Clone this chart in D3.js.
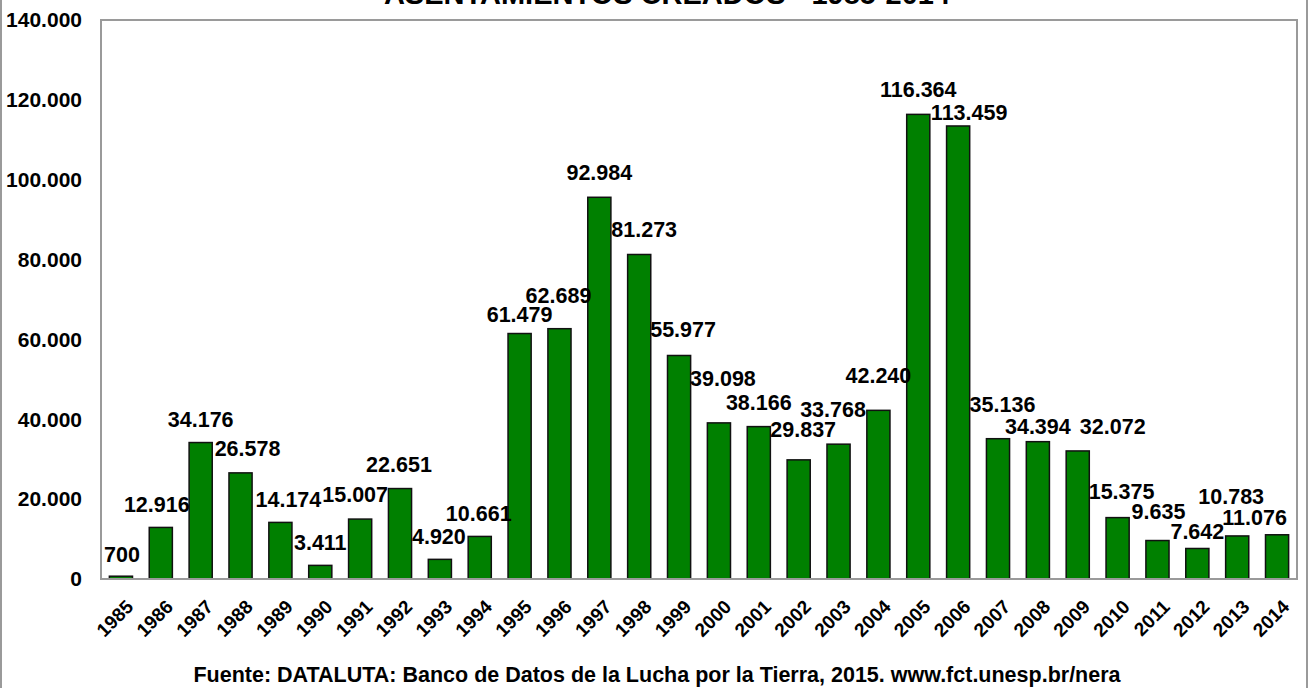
<!DOCTYPE html>
<meta charset="utf-8">
<style>
    body { margin: 0; background: #fff; }
    text { font-family: Arial, "Liberation Sans", sans-serif; font-weight: bold; fill: #000; }
    .bar { fill: #008000; stroke: #111; stroke-width: 1.5; }
    .frame { fill: none; stroke: #9a9a9a; stroke-width: 2; }
</style>
<svg width="1310" height="688"></svg>
<script src="https://d3js.org/d3.v7.min.js"></script>
<script>
    // years on the x axis
    var years = ["1985", "1986", "1987", "1988", "1989", "1990", "1991", "1992", "1993", "1994",
                 "1995", "1996", "1997", "1998", "1999", "2000", "2001", "2002", "2003", "2004",
                 "2005", "2006", "2007", "2008", "2009", "2010", "2011", "2012", "2013", "2014"];
    // printed value of each bar (families settled)
    var labelValues = [700, 12916, 34176, 26578, 14174, 3411, 15007, 22651, 4920, 10661,
                       61479, 62689, 92984, 81273, 55977, 39098, 38166, 29837, 33768, 42240,
                       116364, 113459, 35136, 34394, 32072, 15375, 9635, 7642, 10783, 11076];
    // drawn height of each bar (1997 bar is drawn taller than its label)
    var barValues = [700, 12916, 34176, 26578, 14174, 3411, 15007, 22651, 4920, 10661,
                     61479, 62689, 95600, 81273, 55977, 39098, 38166, 29837, 33768, 42240,
                     116364, 113459, 35136, 34394, 32072, 15375, 9635, 7642, 10783, 11076];
    var yTicks = [0, 20000, 40000, 60000, 80000, 100000, 120000, 140000];

    // hand-moved data labels in the original: [dx, dy] in px
    var labelNudge = [[1, 1], [-4, 0], [0, 0], [7, -1], [8, 0], [0, 0], [-5, -2], [-1, -1.5], [-1, 0], [-1, 0],
                      [0, 4], [-1, -10.5], [0, -2], [5, -2], [4, -3], [4, -21], [0, -1], [4.5, -7], [-5.5, -11.5], [0, -11.5],
                      [0, -2], [11, 10], [4.5, -11.5], [0, 8], [35, -1.5], [4, -3], [1, -6.5], [0, 6], [-6, -16.5], [-22.5, 5.5]];

    var svg = d3.select("svg");
    var fmt = d3.formatLocale({decimal: ",", thousands: ".", grouping: [3], currency: ["", ""]}).format(",d");

    var x = d3.scaleBand().domain(years).range([101, 1297]).paddingInner(0.42).paddingOuter(0.21);
    var y = d3.scaleLinear().domain([0, 140000]).range([579, 20]);

    // outer chart border
    svg.append("rect").attr("class", "frame")
        .attr("x", 1).attr("y", -5).attr("width", 1306).attr("height", 700);

    // title (cut off at top in the original)
    svg.append("text")
        .attr("x", 667).attr("y", 4)
        .attr("text-anchor", "middle")
        .style("font-size", "29px")
        .text("ASENTAMIENTOS CREADOS - 1985-2014");

    // bars
    svg.selectAll(".bar")
        .data(years)
        .enter().append("rect")
        .attr("class", "bar")
        .attr("x", function (d) { return x(d); })
        .attr("width", x.bandwidth())
        .attr("y", function (d, i) { return y(barValues[i]); })
        .attr("height", function (d, i) { return y(0) - y(barValues[i]); });

    // plot area frame
    svg.append("rect").attr("class", "frame")
        .attr("x", x.range()[0]).attr("y", y.range()[1])
        .attr("width", x.range()[1] - x.range()[0])
        .attr("height", y.range()[0] - y.range()[1]);

    // y axis labels
    var yAxis = d3.axisLeft(y).tickValues(yTicks).tickFormat(fmt).tickSize(0).tickPadding(19);
    var yg = svg.append("g").attr("transform", "translate(" + x.range()[0] + ",0)").call(yAxis);
    yg.select(".domain").remove();
    yg.selectAll("text").style("font-size", "21px").style("font-family", null).attr("fill", "#000");

    // x axis labels, rotated
    svg.selectAll(".xlab")
        .data(years)
        .enter().append("text")
        .attr("class", "xlab")
        .style("font-size", "19px")
        .attr("text-anchor", "end")
        .attr("transform", function (d) {
            return "translate(" + (x(d) + x.bandwidth() / 2 + 13.5) + "," + (y(0) + 29) + ") rotate(-45)";
        })
        .text(function (d) { return d; });

    // data labels
    svg.selectAll(".vlab")
        .data(years)
        .enter().append("text")
        .attr("class", "vlab")
        .style("font-size", "21.5px")
        .attr("text-anchor", "middle")
        .attr("x", function (d, i) { return x(d) + x.bandwidth() / 2 + labelNudge[i][0]; })
        .attr("y", function (d, i) { return y(barValues[i]) - 15.5 + labelNudge[i][1]; })
        .text(function (d, i) { return fmt(labelValues[i]); });

    // source note
    svg.append("text")
        .attr("x", 657).attr("y", 682)
        .attr("text-anchor", "middle")
        .style("font-size", "21.5px")
        .text("Fuente: DATALUTA:  Banco de Datos de la Lucha por la Tierra, 2015. www.fct.unesp.br/nera");
</script>
